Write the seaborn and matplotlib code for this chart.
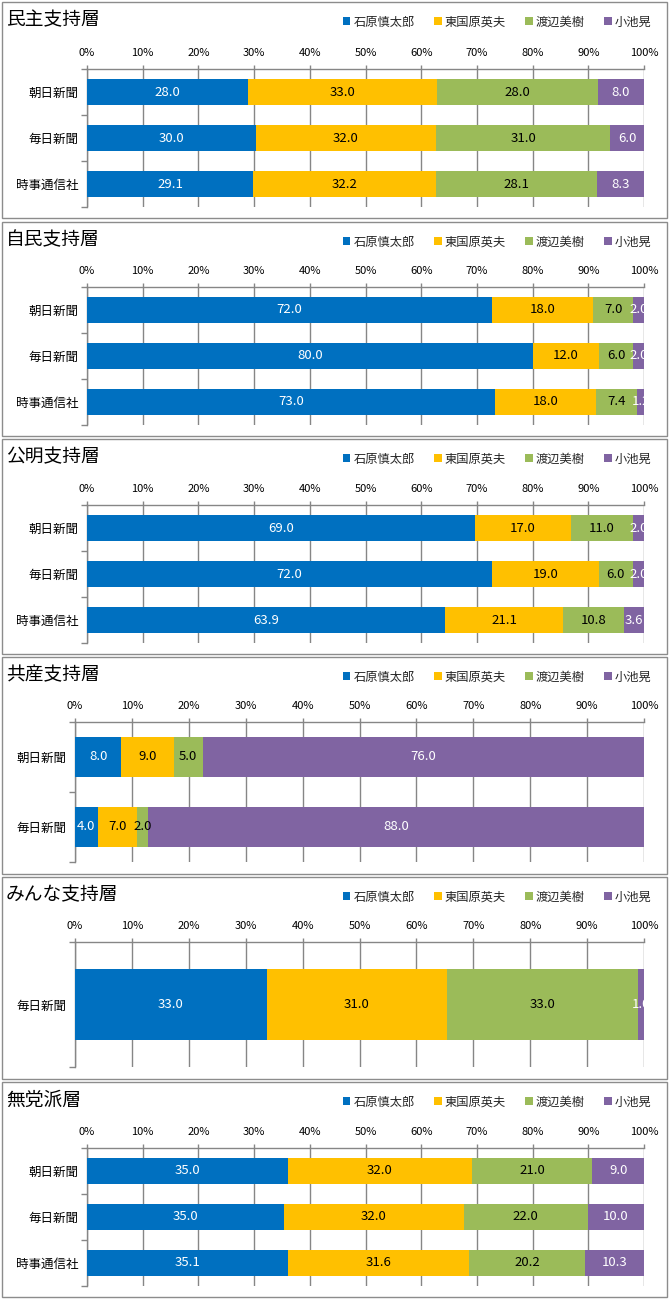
import matplotlib
matplotlib.use("Agg")
import matplotlib.pyplot as plt
import seaborn as sns
import pandas as pd
from matplotlib.patches import Rectangle, Patch

sns.set_theme(style="white")
plt.rcParams['font.family'] = ['Noto Sans CJK JP', 'DejaVu Sans']

# ---- data ----
candidates = ["石原慎太郎", "東国原英夫", "渡辺美樹", "小池晃"]
colors = ["#0070C0", "#FFC000", "#9BBB59", "#8064A2"]
label_colors = ["white", "black", "black", "white"]

titles = ["民主支持層", "自民支持層", "公明支持層", "共産支持層", "みんな支持層", "無党派層"]

sources_3 = ["朝日新聞", "毎日新聞", "時事通信社"]
sources_2 = ["朝日新聞", "毎日新聞"]
sources_1 = ["毎日新聞"]

minshu = [[28.0, 33.0, 28.0, 8.0], [30.0, 32.0, 31.0, 6.0], [29.1, 32.2, 28.1, 8.3]]
jimin = [[72.0, 18.0, 7.0, 2.0], [80.0, 12.0, 6.0, 2.0], [73.0, 18.0, 7.4, 1.2]]
komei = [[69.0, 17.0, 11.0, 2.0], [72.0, 19.0, 6.0, 2.0], [63.9, 21.1, 10.8, 3.6]]
kyosan = [[8.0, 9.0, 5.0, 76.0], [4.0, 7.0, 2.0, 88.0]]
minna = [[33.0, 31.0, 33.0, 1.0]]
mutoha = [[35.0, 32.0, 21.0, 9.0], [35.0, 32.0, 22.0, 10.0], [35.1, 31.6, 20.2, 10.3]]

panel_data = [
    (sources_3, minshu), (sources_3, jimin), (sources_3, komei),
    (sources_2, kyosan), (sources_1, minna), (sources_3, mutoha),
]

# ---- layout (pixels) ----
W, H = 671, 1300
# frame top, frame bottom, plot x0, plot top, plot bottom
layout = [
    (2, 218, 87, 69, 207),
    (222, 436, 87, 287, 425),
    (439, 654, 87, 505, 643),
    (657, 874, 75, 722, 862),
    (877, 1079, 75, 942, 1067),
    (1082, 1297, 87, 1148, 1286),
]
x1 = 644
grid_color = "#868686"

fig = plt.figure(figsize=(W / 100, H / 100), dpi=100)

for (title, (sources, vals), (ft, fb, x0, pt, pb)) in zip(titles, panel_data, layout):
    # panel frame
    fig.add_artist(Rectangle((2 / W, 1 - fb / H), (667 - 2) / W, (fb - ft) / H,
                             transform=fig.transFigure, fill=False,
                             edgecolor="#8c8c8c", linewidth=1.0))
    ax = fig.add_axes([x0 / W, 1 - pb / H, (x1 - x0) / W, (pb - pt) / H])

    rows = []
    for src, v in zip(sources, vals):
        total = sum(v)
        cum = 0.0
        for cand, val in zip(candidates, v):
            start = cum
            cum += val / total * 100
            rows.append(dict(source=src, cand=cand, value=val,
                             start=start, cum=cum))
    df = pd.DataFrame(rows)

    for i in range(len(candidates) - 1, -1, -1):
        sub = df[df["cand"] == candidates[i]]
        sns.barplot(data=sub, x="cum", y="source", order=sources,
                    color=colors[i], saturation=1, width=0.57,
                    errorbar=None, ax=ax, zorder=3, linewidth=0)

    for _, r in df.iterrows():
        ci = candidates.index(r["cand"])
        yi = sources.index(r["source"])
        ax.text((r["start"] + r["cum"]) / 2, yi, f"{r['value']:.1f}",
                ha="center", va="center", fontsize=9.5,
                color=label_colors[ci], zorder=5, clip_on=True)

    ax.set_xlim(0, 100)
    ax.set_ylim(len(sources) - 0.5, -0.5)
    ax.set_xticks(range(0, 101, 10))
    ax.set_xticklabels([f"{t}%" for t in range(0, 101, 10)], fontsize=8)
    ax.xaxis.tick_top()
    ax.xaxis.set_label_position("top")
    ax.set_xlabel("")
    ax.set_ylabel("")
    ax.grid(axis="x", color=grid_color, linewidth=1.0, zorder=0)
    ax.set_axisbelow(True)
    for s in ["bottom", "right"]:
        ax.spines[s].set_visible(False)
    for s in ["top", "left"]:
        ax.spines[s].set_color(grid_color)
        ax.spines[s].set_linewidth(1.0)
    ax.tick_params(axis="x", which="major", top=True, bottom=False,
                   length=3, width=1, color=grid_color, pad=5,
                   labelcolor="black", direction="out")
    ax.set_yticks(range(len(sources)))
    ax.set_yticklabels(sources, fontsize=9)
    ax.set_yticks([k - 0.5 for k in range(len(sources) + 1)], minor=True)
    ax.tick_params(axis="y", which="major", length=0, pad=6, labelcolor="black")
    ax.tick_params(axis="y", which="minor", left=True, length=4, width=1,
                   color=grid_color)

    fig.text(6 / W, 1 - (ft + 18) / H, title, fontsize=13.5, ha="left",
             va="center", color="black")

    handles = [Patch(facecolor=c, edgecolor="none", label=n)
               for c, n in zip(colors, candidates)]
    fig.legend(handles=handles, loc="center left",
               bbox_to_anchor=(343 / W, 1 - (ft + 20) / H),
               ncol=4, frameon=False, fontsize=8.8, handlelength=0.6,
               handleheight=0.6, handletextpad=0.25, columnspacing=1.6,
               borderaxespad=0, borderpad=0)

fig.savefig("out.png", dpi=100, facecolor="white")
